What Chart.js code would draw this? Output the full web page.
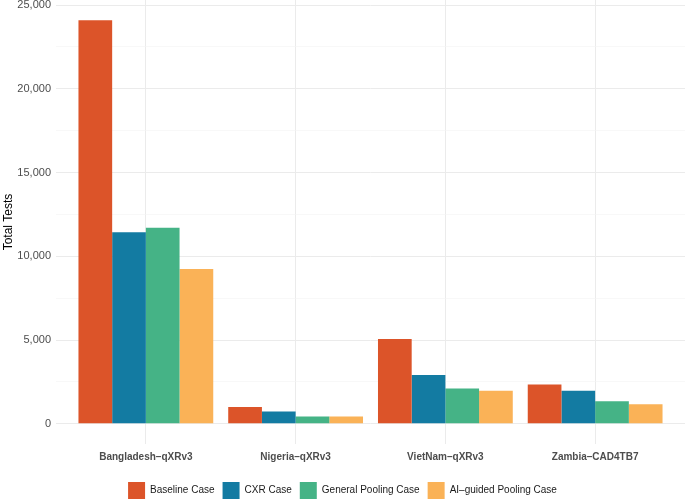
<!DOCTYPE html>
<html>
<head>
<meta charset="utf-8">
<script src="https://cdn.jsdelivr.net/npm/chart.js@4/dist/chart.umd.min.js"></script>
<style>
  html, body { margin: 0; padding: 0; background: #fff; }
  #wrap { width: 685px; height: 502px; }
</style>
</head>
<body>
<div id="wrap"><canvas id="bar_chart"></canvas></div>
<script>
var categories = ["Bangladesh–qXRv3", "Nigeria–qXRv3", "VietNam–qXRv3", "Zambia–CAD4TB7"];
var seriesNames = ["Baseline Case", "CXR Case", "General Pooling Case", "AI–guided Pooling Case"];
var baseline = [24100, 1010, 5070, 2350];
var cxr = [11440, 730, 2920, 1970];
var generalPooling = [11700, 440, 2110, 1350];
var aiPooling = [9250, 430, 1970, 1170];
var yTicks = [0, 2500, 5000, 7500, 10000, 12500, 15000, 17500, 20000, 22500, 25000];

var colors = ['#dc5429', '#137ba2', '#45b386', '#fab257'];

function points(arr) {
    return arr.map(function (v, i) { return { x: i, y: v }; });
}

var allSeries = [baseline, cxr, generalPooling, aiPooling];

new Chart(document.getElementById("bar_chart").getContext("2d"), {
    type: 'bar',
    data: {
        datasets: allSeries.map(function (s, i) {
            return {
                label: seriesNames[i],
                data: points(s),
                backgroundColor: colors[i],
                borderWidth: 0,
                categoryPercentage: 0.9,
                barPercentage: 1.0
            };
        })
    },
    options: {
        responsive: true,
        maintainAspectRatio: false,
        animation: false,
        layout: { padding: { top: 0, right: 0, left: 0, bottom: -7 } },
        plugins: {
            tooltip: { enabled: false },
            legend: {
                position: 'bottom',
                labels: {
                    boxWidth: 17,
                    boxHeight: 17,
                    padding: 8,
                    color: '#1a1a1a',
                    font: { family: "'Liberation Sans', Arial, sans-serif", size: 10 }
                }
            }
        },
        scales: {
            x: {
                type: 'linear',
                offset: false,
                min: -0.6,
                max: 3.6,
                afterBuildTicks: function (scale) {
                    scale.ticks = [0, 1, 2, 3].map(function (v) { return { value: v }; });
                },
                afterFit: function (scale) {
                    scale.height = 30;
                    scale.paddingLeft = 0;
                    scale.paddingRight = 0;
                },
                ticks: {
                    autoSkip: false,
                    maxRotation: 0,
                    padding: 7,
                    color: '#4d4d4d',
                    font: { family: "'Liberation Sans', Arial, sans-serif", size: 10, weight: 'bold' },
                    callback: function (v) { return categories[v]; }
                },
                grid: { offset: false, color: '#ebebeb', lineWidth: 1, drawTicks: false },
                border: { display: false }
            },
            y: {
                min: -1205,
                max: 25305,
                afterBuildTicks: function (scale) {
                    scale.ticks = yTicks.map(function (v) { return { value: v }; });
                },
                afterFit: function (scale) {
                    scale.width = 56;
                    scale.paddingTop = 0;
                    scale.paddingBottom = 0;
                },
                ticks: {
                    padding: 5,
                    color: '#4d4d4d',
                    font: { family: "'Liberation Sans', Arial, sans-serif", size: 11 },
                    callback: function (v) { return v % 5000 === 0 ? v.toLocaleString('en-US') : ''; }
                },
                grid: {
                    drawTicks: false,
                    color: function (ctx) { return ctx.tick && ctx.tick.value % 5000 === 0 ? '#ebebeb' : '#f3f3f3'; },
                    lineWidth: function (ctx) { return ctx.tick && ctx.tick.value % 5000 === 0 ? 1 : 0.6; }
                },
                border: { display: false },
                title: {
                    display: true,
                    text: 'Total Tests',
                    color: '#000',
                    padding: { top: 1, bottom: 2 },
                    font: { family: "'Liberation Sans', Arial, sans-serif", size: 12 }
                }
            }
        }
    }
});
</script>
</body>
</html>
